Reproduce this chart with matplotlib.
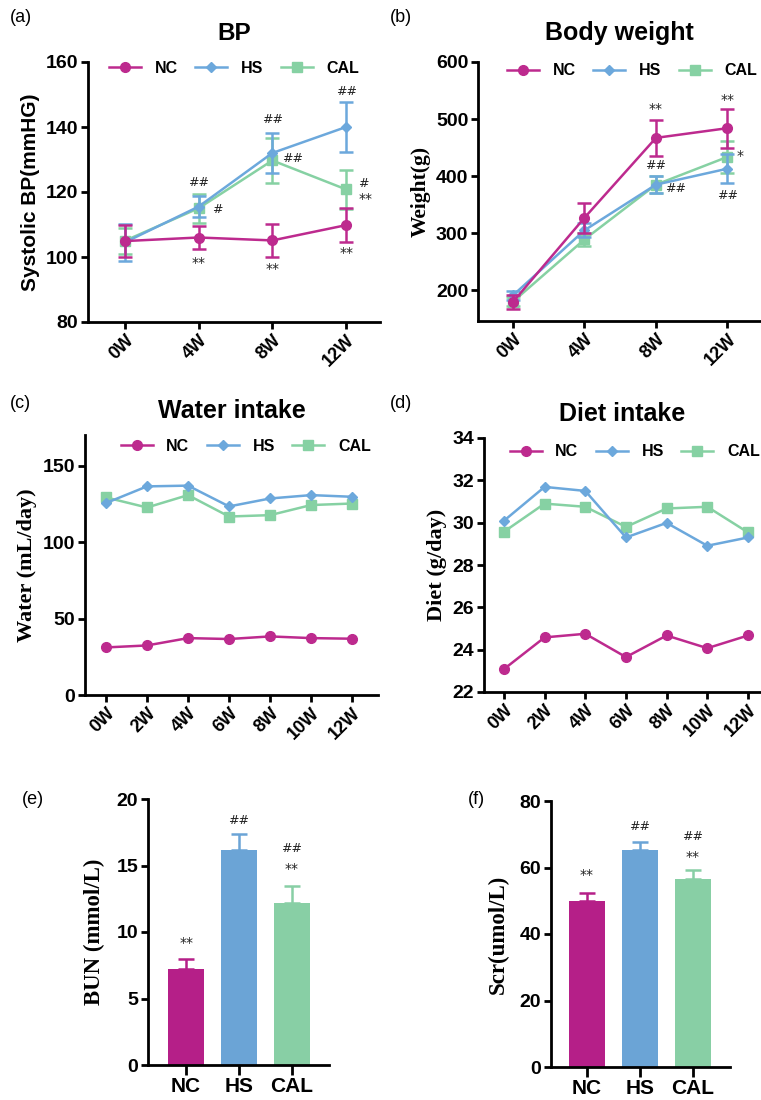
import matplotlib
matplotlib.use("Agg")
import matplotlib.pyplot as plt
from matplotlib.lines import Line2D
import numpy as np

# ---------------- data ----------------
groups = ["NC", "HS", "CAL"]

bp_weeks = ["0W", "4W", "8W", "12W"]
bp_nc = [104.9, 106.0, 105.1, 109.8]
bp_nc_err = [5.0, 3.5, 5.2, 5.2]
bp_hs = [104.5, 115.5, 132.0, 140.0]
bp_hs_err = [5.8, 3.3, 6.3, 7.6]
bp_cal = [105.0, 115.0, 129.7, 120.8]
bp_cal_err = [4.0, 4.4, 6.9, 6.0]

bw_weeks = ["0W", "4W", "8W", "12W"]
bw_nc = [179.6, 327.0, 467.0, 484.0]
bw_nc_err = [12.0, 26.0, 32.0, 34.0]
bw_hs = [191.0, 305.0, 385.0, 413.0]
bw_hs_err = [8.0, 12.0, 15.0, 25.0]
bw_cal = [180.0, 289.0, 385.0, 433.6]
bw_cal_err = [8.0, 12.0, 15.0, 28.0]

wi_weeks = ["0W", "2W", "4W", "6W", "8W", "10W", "12W"]
wi_nc = [31.1, 32.4, 37.2, 36.6, 38.3, 37.2, 36.8]
wi_hs = [125.5, 136.4, 136.9, 123.3, 128.5, 130.7, 129.6]
wi_cal = [129.2, 122.6, 130.7, 116.7, 117.6, 124.2, 125.2]

di_weeks = ["0W", "2W", "4W", "6W", "8W", "10W", "12W"]
di_nc = [23.08, 24.58, 24.75, 23.65, 24.67, 24.07, 24.67]
di_hs = [30.09, 31.69, 31.50, 29.30, 29.99, 28.91, 29.30]
di_cal = [29.57, 30.90, 30.75, 29.80, 30.67, 30.75, 29.54]

bun_vals = [7.19, 16.17, 12.16]
bun_err = [0.78, 1.18, 1.28]
scr_vals = [49.9, 65.2, 56.4]
scr_err = [2.3, 2.5, 2.8]

# ---------------- style ----------------
C_NC = "#BD2A8E"
C_HS = "#6CA8DC"
C_CAL = "#86D1A3"
BAR_NC = "#B51F88"
BAR_HS = "#6BA4D6"
BAR_CAL = "#88CFA5"
SANS = "Liberation Sans"
SERIF = "Liberation Serif"
STYLES = [("o", C_NC, 7), ("D", C_HS, 5.5), ("s", C_CAL, 6.5)]

plt.rcParams["font.family"] = SANS

fig = plt.figure(figsize=(7.61, 11.0), dpi=100)
W, H = 761.0, 1100.0


def make_ax(left, top, right, bottom):
    return fig.add_axes([left / W, 1 - bottom / H, (right - left) / W, (bottom - top) / H])


def style_ax(ax, xsize=13, ysize=14):
    for s in ["top", "right"]:
        ax.spines[s].set_visible(False)
    for s in ["left", "bottom"]:
        ax.spines[s].set_linewidth(2.0)
        ax.spines[s].set_color("black")
    ax.tick_params(axis="both", direction="out", length=5, width=2.0, pad=2)
    for lab in ax.get_yticklabels():
        lab.set_fontweight("bold")
        lab.set_fontfamily(SANS)
        lab.set_fontsize(ysize)
    for lab in ax.get_xticklabels():
        lab.set_fontweight("bold")
        lab.set_fontfamily(SANS)
        lab.set_fontsize(xsize)


def line_panel(ax, weeks, series, errs=None):
    x = np.arange(len(weeks))
    for i, (vals, (mk, col, ms)) in enumerate(zip(series, STYLES)):
        if errs is not None:
            ax.errorbar(x, vals, yerr=errs[i], color=col, marker=mk, ms=ms,
                        lw=1.8, elinewidth=1.8, capsize=5, capthick=1.8,
                        zorder=3 + (2 - i))
        else:
            ax.plot(x, vals, color=col, marker=mk, ms=ms, lw=1.8,
                    zorder=3 + (2 - i))
    ax.set_xticks(x)
    ax.set_xticklabels(weeks, rotation=45, ha="right", rotation_mode="anchor")


def legend(ax, anchor):
    handles = [Line2D([], [], color=col, marker=mk, ms=ms, lw=1.8)
               for (mk, col, ms) in STYLES]
    ax.legend(handles, groups, loc="upper left", bbox_to_anchor=anchor, ncol=3,
              frameon=False, handlelength=2.0, columnspacing=1.1, handletextpad=0.85,
              prop={"family": SANS, "weight": "bold", "size": 11.5},
              borderaxespad=0)


def ann(ax, x, y, s, size=9):
    ax.text(x, y, s, ha="center", va="center", fontsize=size, color="#222222",
            fontfamily="DejaVu Sans")


# ---------------- (a) BP ----------------
ax = make_ax(88, 62, 380, 322)
line_panel(ax, bp_weeks, [bp_nc, bp_hs, bp_cal], [bp_nc_err, bp_hs_err, bp_cal_err])
ax.set_xlim(-0.5, 3.46)
ax.set_ylim(80, 160)
ax.set_yticks([80, 100, 120, 140, 160])
style_ax(ax)
ax.set_ylabel("Systolic BP(mmHG)", fontsize=15, fontweight="bold", fontfamily=SANS, labelpad=4)
ax.set_title("BP", fontsize=17.5, fontweight="bold", fontfamily=SANS, pad=16)
legend(ax, (0.05, 1.03))
ann(ax, 1, 122.9, "##"); ann(ax, 1.25, 114.7, "#")
ann(ax, 2, 142.2, "##"); ann(ax, 2.27, 130.3, "##")
ann(ax, 3, 151, "##"); ann(ax, 3.23, 122.6, "#"); ann(ax, 3.27, 117.8, "**", 10)
ann(ax, 1, 98, "**", 10); ann(ax, 2, 96.4, "**", 10); ann(ax, 3, 101.3, "**", 10)
fig.text(10 / W, 1 - 18 / H, "(a)", fontsize=13, fontfamily=SANS, va="center")

# ---------------- (b) Body weight ----------------
ax = make_ax(478, 62, 761, 321)
line_panel(ax, bw_weeks, [bw_nc, bw_hs, bw_cal], [bw_nc_err, bw_hs_err, bw_cal_err])
ax.set_xlim(-0.49, 3.47)
ax.set_ylim(146, 600)
ax.set_yticks([200, 300, 400, 500, 600])
style_ax(ax)
ax.set_ylabel("Weight(g)", fontsize=15.5, fontweight="bold", fontfamily=SERIF, labelpad=4)
ax.set_title("Body weight", fontsize=18, fontweight="bold", fontfamily=SANS, pad=16)
legend(ax, (0.08, 1.02))
ann(ax, 2, 518, "**", 10); ann(ax, 2, 418, "##"); ann(ax, 2.27, 378, "##")
ann(ax, 3, 534, "**", 10); ann(ax, 3.18, 435, "*", 10); ann(ax, 3, 366, "##")
fig.text(390 / W, 1 - 18 / H, "(b)", fontsize=13, fontfamily=SANS, va="center")

# ---------------- (c) Water intake ----------------
ax = make_ax(85, 435, 378, 695)
line_panel(ax, wi_weeks, [wi_nc, wi_hs, wi_cal])
ax.set_xlim(-0.51, 6.63)
ax.set_ylim(0, 170)
ax.set_yticks([0, 50, 100, 150])
style_ax(ax)
ax.set_ylabel("Water (mL/day)", fontsize=16, fontweight="bold", fontfamily=SERIF, labelpad=4)
ax.set_title("Water intake", fontsize=18, fontweight="bold", fontfamily=SANS, pad=12)
legend(ax, (0.1, 1.01))
fig.text(10 / W, 1 - 403 / H, "(c)", fontsize=13, fontfamily=SANS, va="center")

# ---------------- (d) Diet intake ----------------
ax = make_ax(484, 438, 761, 692)
line_panel(ax, di_weeks, [di_nc, di_hs, di_cal])
ax.set_xlim(-0.49, 6.32)
ax.set_ylim(22, 34)
ax.set_yticks([22, 24, 26, 28, 30, 32, 34])
style_ax(ax)
ax.set_ylabel("Diet (g/day)", fontsize=16, fontweight="bold", fontfamily=SERIF, labelpad=4)
ax.set_title("Diet intake", fontsize=18, fontweight="bold", fontfamily=SANS, pad=12)
legend(ax, (0.07, 1.0))
fig.text(390 / W, 1 - 403 / H, "(d)", fontsize=13, fontfamily=SANS, va="center")


# ---------------- (e) BUN ----------------
def bar_panel(ax, vals, errs):
    x = np.arange(len(groups))
    cols = [BAR_NC, BAR_HS, BAR_CAL]
    ax.bar(x, vals, width=0.67, color=cols, zorder=2)
    for xi, v, e, c in zip(x, vals, errs, cols):
        ax.errorbar([xi], [v], yerr=[[0], [e]], color=c, capsize=6, capthick=1.8,
                    elinewidth=1.8, fmt="none", zorder=1)
    ax.set_xticks(x)
    ax.set_xticklabels(groups)


ax = make_ax(148, 799, 329, 1065)
bar_panel(ax, bun_vals, bun_err)
ax.set_xlim(-0.72, 2.70)
ax.set_ylim(0, 20)
ax.set_yticks([0, 5, 10, 15, 20])
style_ax(ax, xsize=15, ysize=14)
ax.tick_params(axis="x", length=7)
ax.set_ylabel("BUN (mmol/L)", fontsize=16.5, fontweight="bold", fontfamily=SERIF, labelpad=8)
ann(ax, 0, 9.15, "**", 10); ann(ax, 1, 18.4, "##"); ann(ax, 2, 16.3, "##"); ann(ax, 2, 14.7, "**", 10)
fig.text(22 / W, 1 - 800 / H, "(e)", fontsize=13, fontfamily=SANS, va="center")

# ---------------- (f) Scr ----------------
ax = make_ax(551, 801, 730, 1067)
bar_panel(ax, scr_vals, scr_err)
ax.set_xlim(-0.68, 2.70)
ax.set_ylim(0, 80)
ax.set_yticks([0, 20, 40, 60, 80])
style_ax(ax, xsize=15, ysize=14)
ax.tick_params(axis="x", length=7)
ax.set_ylabel("Scr(umol/L)", fontsize=16.5, fontweight="bold", fontfamily=SERIF, labelpad=8)
ann(ax, 0, 57.7, "**", 10); ann(ax, 1, 72.2, "##"); ann(ax, 2, 69.4, "##"); ann(ax, 2, 63.2, "**", 10)
fig.text(468 / W, 1 - 800 / H, "(f)", fontsize=13, fontfamily=SANS, va="center")

fig.savefig("out.png", dpi=100)
